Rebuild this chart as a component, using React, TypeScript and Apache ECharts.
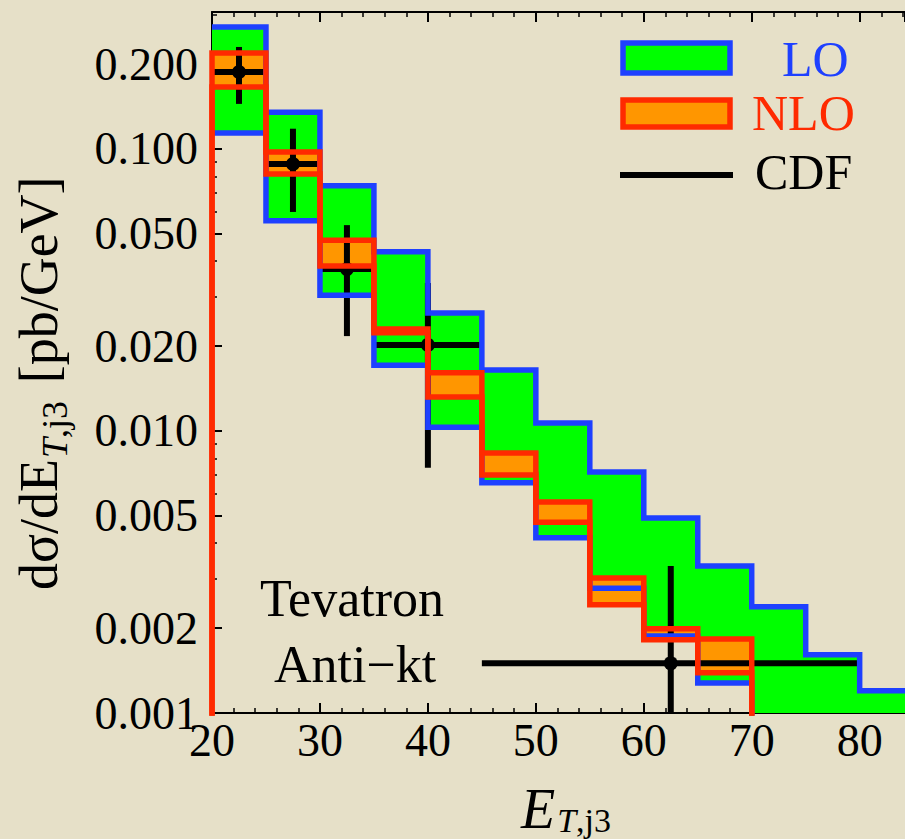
import React, { useEffect, useRef } from "react";
import * as echarts from "echarts";

// ---- data ----
const binStarts = [20, 25, 30, 35, 40, 45, 50, 55, 60, 65, 70, 75, 80];
const binWidth = 5;
const loUpper = [0.271, 0.135, 0.074, 0.0432, 0.0262, 0.01644, 0.01067, 0.00716, 0.00491, 0.00332, 0.00238, 0.00161, 0.0012];
const loLower = [0.114, 0.0556, 0.0303, 0.0171, 0.0103, 0.00655, 0.00418, 0.00277, 0.001875, 0.001277, 0.0006, 0.0005, 0.0004];
const nloUpper = [0.219, 0.0975, 0.0475, 0.023, 0.0161, 0.00836, 0.0056, 0.00301, 0.00199, 0.00183];
const nloLower = [0.166, 0.0815, 0.0385, 0.0223, 0.0132, 0.00698, 0.00475, 0.00242, 0.00182, 0.00139];
const cdfX = [22.5, 27.5, 32.5, 40, 62.5];
const cdfXLow = [20, 25, 30, 35, 45];
const cdfXHigh = [25, 30, 35, 45, 80];
const cdfY = [0.1875, 0.0885, 0.0375, 0.0202, 0.0015];
const cdfYLow = [0.1445, 0.0598, 0.0217, 0.0074, 0.0005];
const cdfYHigh = [0.23, 0.118, 0.0537, 0.0335, 0.00332];
const yMajorTicks = [0.001, 0.002, 0.005, 0.01, 0.02, 0.05, 0.1, 0.2];
const yMinorTicks = [0.003, 0.004, 0.006, 0.007, 0.008, 0.009, 0.03, 0.04, 0.06, 0.07, 0.08, 0.09, 0.3];
const X_MIN = 20;
const X_MAX = 84.2;
const Y_MIN = 0.001;
const Y_MAX = 0.306;
const FLOOR = 1e-6; // histogram "zero" (off the log axis)

const SERIF = '"Liberation Serif", "Times New Roman", serif';
const GREEN = "#00ff00";
const BLUE = "#1e40ff";
const ORANGE = "#ff9600";
const RED = "#ff2a00";
const BG = "#e6e0c8";

function measure(text: string, font: string): number {
  const ctx = document.createElement("canvas").getContext("2d")!;
  ctx.font = font;
  return ctx.measureText(text).width;
}

function stepData(starts: number[], vals: number[], dropEnds: boolean) {
  const pts: number[][] = [];
  if (dropEnds) pts.push([starts[0], FLOOR]);
  vals.forEach((v, i) => pts.push([starts[i], v]));
  const end = starts[vals.length - 1] + binWidth;
  pts.push([end, dropEnds ? FLOOR : vals[vals.length - 1]]);
  return pts;
}

function bandSeries(starts: number[], lower: number[], upper: number[], color: string) {
  return {
    type: "custom",
    silent: true,
    clip: true,
    data: upper.map((u, i) => [starts[i], starts[i] + binWidth, lower[i], u]),
    renderItem: (params: any, api: any) => {
      const p0 = api.coord([api.value(0), api.value(3)]);
      const p1 = api.coord([api.value(1), api.value(2)]);
      return {
        type: "rect",
        shape: { x: p0[0] - 0.5, y: p0[1], width: p1[0] - p0[0] + 1, height: p1[1] - p0[1] },
        style: { fill: color },
      };
    },
  };
}

function edgeSeries(data: number[][], color: string) {
  return {
    type: "line",
    silent: true,
    clip: true,
    step: "end",
    symbol: "none",
    data,
    lineStyle: { color, width: 5.5, join: "miter" },
  };
}

export default function App() {
  const ref = useRef<HTMLDivElement>(null);
  useEffect(() => {
    if (!ref.current) return;
    const chart = echarts.init(ref.current, null, { renderer: "svg" });
    const nloStarts = binStarts.slice(0, nloUpper.length);

    // y title built from pieces (subscript)
    const F = 54, FS = 36;
    const wMain = measure("dσ/dE", `${F}px ${SERIF}`);
    const wT = measure("T", `italic ${FS}px ${SERIF}`);
    const wSub2 = measure(",j3", `${FS}px ${SERIF}`);
    const wSpace = measure(" ", `${F}px ${SERIF}`);
    const yTitleChildren = [
      { type: "text", x: 0, y: -0.34 * F, style: { text: "dσ/dE", font: `${F}px ${SERIF}`, fill: "#000", verticalAlign: "middle", align: "left" } },
      { type: "text", x: wMain + 1, y: 10 - 0.34 * FS, style: { text: "T", font: `italic ${FS}px ${SERIF}`, fill: "#000", verticalAlign: "middle", align: "left" } },
      { type: "text", x: wMain + 1 + wT, y: 10 - 0.34 * FS, style: { text: ",j3", font: `${FS}px ${SERIF}`, fill: "#000", verticalAlign: "middle", align: "left" } },
      { type: "text", x: wMain + 1 + wT + wSub2 + wSpace * 1.3, y: -0.34 * F, style: { text: "[pb/GeV]", font: `${F}px ${SERIF}`, fill: "#000", verticalAlign: "middle", align: "left" } },
    ];
    // x title
    const FX = 56, FXS = 34;
    const wE = measure("E", `italic ${FX}px ${SERIF}`);
    const wXT = measure("T", `italic ${FXS}px ${SERIF}`);
    const xTitleX = 521;
    const xBase = 828;

    const xAxisCommon = {
      type: "value", min: X_MIN, max: X_MAX, interval: 10,
      axisLine: { show: true, onZero: false, lineStyle: { color: "#000", width: 2 } },
      axisTick: { show: true, inside: true, length: 10, lineStyle: { color: "#000", width: 2 } },
      minorTick: { show: true, splitNumber: 5, length: 5, lineStyle: { color: "#000", width: 1.5 } },
      splitLine: { show: false },
    };

    const option: any = {
      animation: false,
      backgroundColor: BG,
      textStyle: { fontFamily: SERIF },
      grid: { left: 212, right: 0, top: 12, bottom: 126, containLabel: false },
      xAxis: [
        {
          ...xAxisCommon, position: "bottom",
          axisLabel: { show: true, fontSize: 46, color: "#000", fontFamily: SERIF, margin: 4, showMaxLabel: false },
        },
        { ...xAxisCommon, position: "top", axisLabel: { show: false } },
      ],
      yAxis: [
        {
          type: "log", position: "left", min: Y_MIN, max: Y_MAX, logBase: 10,
          axisLine: { show: true, onZero: false, lineStyle: { color: "#000", width: 2 } },
          axisTick: { show: true, inside: true, length: 10, customValues: yMajorTicks, lineStyle: { color: "#000", width: 2 } },
          axisLabel: {
            show: true, customValues: yMajorTicks, fontSize: 46, color: "#000", fontFamily: SERIF, margin: 14,
            formatter: (v: number) => Number(v).toFixed(3),
          },
          splitLine: { show: false },
        },
        {
          type: "log", position: "left", min: Y_MIN, max: Y_MAX, logBase: 10,
          axisLine: { show: false },
          axisTick: { show: true, inside: true, length: 5, customValues: yMinorTicks, lineStyle: { color: "#000", width: 1.5 } },
          axisLabel: { show: false },
          splitLine: { show: false },
        },
      ],
      series: [
        bandSeries(binStarts, loLower, loUpper, GREEN),
        bandSeries(nloStarts, nloLower, nloUpper, ORANGE),
        edgeSeries(stepData(binStarts, loUpper, false), BLUE),
        edgeSeries(stepData(binStarts, loLower, false), BLUE),
        edgeSeries(stepData(nloStarts, nloUpper, true), RED),
        edgeSeries(stepData(nloStarts, nloLower, true), RED),
        {
          type: "custom",
          silent: true,
          clip: true,
          data: cdfX.map((x, i) => [x, cdfY[i], cdfXLow[i], cdfXHigh[i], cdfYLow[i], cdfYHigh[i]]),
          renderItem: (params: any, api: any) => {
            const x = api.value(0), y = api.value(1);
            const c = api.coord([x, y]);
            const l = api.coord([api.value(2), y]);
            const r = api.coord([api.value(3), y]);
            const b = api.coord([x, api.value(4)]);
            const t = api.coord([x, api.value(5)]);
            return {
              type: "group",
              children: [
                { type: "line", shape: { x1: l[0], y1: l[1], x2: r[0], y2: r[1] }, style: { stroke: "#000", lineWidth: 6 } },
                { type: "line", shape: { x1: t[0], y1: t[1], x2: b[0], y2: b[1] }, style: { stroke: "#000", lineWidth: 6 } },
                { type: "circle", shape: { cx: c[0], cy: c[1], r: 7 }, style: { fill: "#000" } },
              ],
            };
          },
        },
      ],
      graphic: [
        // legend
        { type: "rect", z: 100, shape: { x: 623, y: 43, width: 107, height: 30 }, style: { fill: GREEN, stroke: BLUE, lineWidth: 5.5 } },
        { type: "rect", z: 100, shape: { x: 623, y: 100, width: 107, height: 27 }, style: { fill: ORANGE, stroke: RED, lineWidth: 5.5 } },
        { type: "line", z: 100, shape: { x1: 620, y1: 175, x2: 733, y2: 175 }, style: { stroke: "#000", lineWidth: 6 } },
        { type: "text", z: 100, x: 782, y: 58.5, style: { text: "LO", font: `50px ${SERIF}`, fill: BLUE, verticalAlign: "middle", align: "left" } },
        { type: "text", z: 100, x: 752, y: 112.5, style: { text: "NLO", font: `50px ${SERIF}`, fill: RED, verticalAlign: "middle", align: "left" } },
        { type: "text", z: 100, x: 755, y: 171.5, style: { text: "CDF", font: `50px ${SERIF}`, fill: "#000", verticalAlign: "middle", align: "left" } },
        // annotation
        { type: "text", z: 100, x: 352, y: 598.5, style: { text: "Tevatron", font: `52px ${SERIF}`, fill: "#000", verticalAlign: "middle", align: "center" } },
        { type: "text", z: 100, x: 355, y: 664.5, style: { text: "Anti\u2212kt", font: `52px ${SERIF}`, fill: "#000", verticalAlign: "middle", align: "center" } },
        // x title
        { type: "text", z: 100, x: xTitleX, y: xBase - 0.34 * FX, style: { text: "E", font: `italic ${FX}px ${SERIF}`, fill: "#000", verticalAlign: "middle", align: "left" } },
        { type: "text", z: 100, x: xTitleX + wE + 2, y: xBase + 4 - 0.34 * FXS, style: { text: "T", font: `italic ${FXS}px ${SERIF}`, fill: "#000", verticalAlign: "middle", align: "left" } },
        { type: "text", z: 100, x: xTitleX + wE + 2 + wXT, y: xBase + 4 - 0.34 * FXS, style: { text: ",j3", font: `${FXS}px ${SERIF}`, fill: "#000", verticalAlign: "middle", align: "left" } },
        // y title
        { type: "group", z: 100, x: 57, y: 590, rotation: Math.PI / 2, children: yTitleChildren },
      ],
    };
    chart.setOption(option);
    return () => chart.dispose();
  }, []);
  return <div ref={ref} style={{ position: "absolute", left: 0, top: 0, width: 905, height: 839 }} />;
}
